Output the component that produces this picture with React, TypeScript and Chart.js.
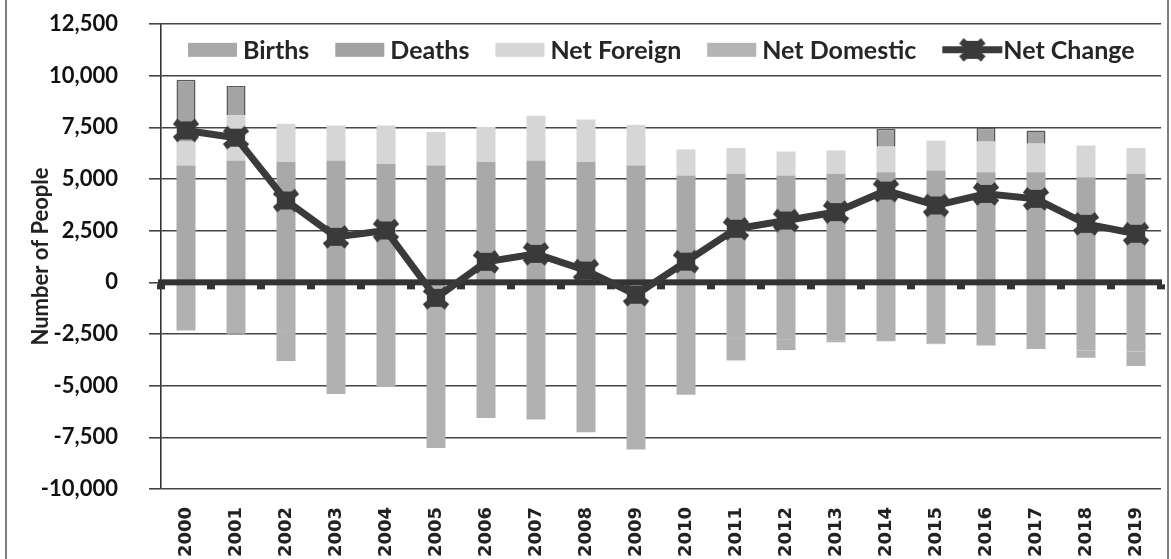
import { useEffect, useRef } from "react";
import { Chart, registerables } from "chart.js";
Chart.register(...registerables);

const years = ["2000","2001","2002","2003","2004","2005","2006","2007","2008","2009","2010","2011","2012","2013","2014","2015","2016","2017","2018","2019"];
const births = [5650,5900,5820,5900,5740,5650,5820,5900,5820,5650,5170,5250,5170,5250,5330,5410,5330,5330,5090,5250];
const deaths = [-2330,-2490,-2400,-2450,-2450,-2500,-2500,-2550,-2550,-2600,-2650,-2700,-2750,-2800,-2850,-2950,-3060,-3220,-3300,-3350];
const netForeign = [1150,2200,1850,1690,1850,1630,1700,2160,2060,1970,1260,1250,1160,1130,1230,1450,1470,1370,1530,1250];
const netDomestic = [3000,1400,-1410,-2950,-2620,-5520,-4060,-4090,-4700,-5490,-2790,-1080,-530,-100,870,-40,680,650,-350,-700];
const netChange = [7350,7000,3960,2200,2510,-750,990,1380,570,-600,1000,2590,2990,3400,4440,3720,4280,4040,2830,2350];
const yMin = -10000;
const yMax = 12500;
const yStep = 2500;

const LINE = "#3a3a3a";

function makeMarker(): HTMLCanvasElement {
  const c = document.createElement("canvas");
  c.width = 30; c.height = 26;
  const g = c.getContext("2d")!;
  g.strokeStyle = LINE; g.fillStyle = LINE;
  g.lineWidth = 7;
  g.beginPath();
  g.moveTo(4, 4); g.lineTo(26, 22);
  g.moveTo(26, 4); g.lineTo(4, 22);
  g.stroke();
  g.fillRect(6, 4, 18, 18);
  return c;
}

const framePlugin = {
  id: "frame",
  beforeDraw(chart: any) {
    const { ctx, width, height } = chart;
    ctx.save();
    ctx.fillStyle = "#fff";
    ctx.fillRect(0, 0, width, height);
    ctx.strokeStyle = "#555";
    ctx.lineWidth = 1.5;
    ctx.beginPath();
    ctx.moveTo(6, 0); ctx.lineTo(6, height);
    ctx.moveTo(width - 3, 0); ctx.lineTo(width - 3, height);
    ctx.stroke();
    ctx.restore();
  },
};

const zeroPlugin = {
  id: "zeroLine",
  beforeDatasetDraw(chart: any, args: any) {
    if (args.meta.type !== "line") return;
    const { ctx, chartArea } = chart;
    const x = chart.scales.x, y = chart.scales.y;
    const y0 = y.getPixelForValue(0);
    const step = x.getPixelForValue(1) - x.getPixelForValue(0);
    ctx.save();
    ctx.fillStyle = "#333";
    ctx.fillRect(chartArea.left - 3, y0 - 3, chartArea.right - chartArea.left + 4, 6);
    for (let i = 0; i <= years.length; i++) {
      const px = x.getPixelForValue(0) - step / 2 + i * step;
      ctx.fillRect(px - 4, y0 + 2, 8, 5);
    }
    ctx.restore();
  },
};

const legendPlugin = {
  id: "insideLegend",
  afterDraw(chart: any) {
    const { ctx } = chart;
    const y = chart.scales.y;
    const cy = (y.getPixelForValue(12500) + y.getPixelForValue(10000)) / 2;
    ctx.save();
    ctx.font = "bold 25px Lato";
    ctx.textBaseline = "middle";
    ctx.textAlign = "left";
    let x = 188;
    chart.data.datasets.forEach((ds: any) => {
      if (ds.type === "line") {
        ctx.strokeStyle = LINE;
        ctx.lineWidth = 7;
        ctx.beginPath();
        ctx.moveTo(x, cy); ctx.lineTo(x + 60, cy);
        ctx.stroke();
        const m = ds.pointStyle as HTMLCanvasElement;
        ctx.drawImage(m, x + 30 - m.width / 2, cy - m.height / 2);
        x += 61;
      } else {
        ctx.fillStyle = ds.legendColor;
        ctx.fillRect(x, cy - 7, 49, 14);
        x += 55;
      }
      ctx.fillStyle = "#262626";
      ctx.fillText(ds.label, x, cy + 1);
      x += ctx.measureText(ds.label).width + 26;
    });
    ctx.restore();
  },
};

export default function App() {
  const ref = useRef<HTMLCanvasElement>(null);
  useEffect(() => {
    document.body.style.margin = "0";
    const marker = makeMarker();
    const chart = new Chart(ref.current!, {
      type: "bar",
      data: {
        labels: years,
        datasets: [
          { type: "bar", label: "Births", data: births, backgroundColor: "#a9a9a9", legendColor: "#a9a9a9", order: 1 },
          { type: "bar", label: "Deaths", data: deaths, backgroundColor: "#b1b1b1", legendColor: "#a2a2a2", order: 1 },
          { type: "bar", label: "Net Foreign", data: netForeign, backgroundColor: "#d6d6d6", legendColor: "#d6d6d6", order: 1 },
          {
            type: "bar", label: "Net Domestic", data: netDomestic, legendColor: "#b4b4b4", order: 1,
            backgroundColor: (c: any) => (c.raw > 0 ? "#a4a4a4" : "#b1b1b1"),
            borderColor: "#5a5a5a",
            borderWidth: (c: any) => (c.raw > 0 ? 1.5 : 0),
          },
          {
            type: "line", label: "Net Change", data: netChange, borderColor: LINE, backgroundColor: LINE,
            borderWidth: 7, pointStyle: marker as any, pointRadius: 13, tension: 0, order: 0,
          },
        ] as any,
      },
      options: {
        animation: false,
        responsive: false,
        devicePixelRatio: 1,
        layout: { autoPadding: false, padding: { left: 28, top: 24, right: 10, bottom: 0 } },
        datasets: { bar: { categoryPercentage: 1, barPercentage: 0.38 } },
        plugins: { legend: { display: false }, tooltip: { enabled: false }, title: { display: false } },
        scales: {
          x: {
            stacked: true,
            grid: { display: false },
            border: { display: false },
            ticks: {
              minRotation: 90, maxRotation: 90, padding: 10, autoSkip: false,
              color: "#222", font: { family: "DejaVu Sans", weight: "bold", size: 18 },
            },
            afterFit: (s: any) => { s.height = 70; },
          },
          y: {
            stacked: true,
            min: yMin, max: yMax,
            ticks: {
              stepSize: yStep, padding: 31, color: "#111",
              font: { family: "Lato", weight: "bold", size: 22 },
              callback: (v: any) => Number(v).toLocaleString("en-US"),
            },
            grid: { color: "#444", lineWidth: 1.6, tickLength: 12, drawTicks: true },
            border: { display: true, color: "#333", width: 1.6 },
            title: {
              display: true, text: "Number of People", color: "#222", padding: 0,
              font: { family: "Lato", weight: "bold", size: 22 },
            },
            afterFit: (s: any) => { s.width = 133; s.paddingTop = 0; s.paddingBottom = 0; },
          },
        },
      },
      plugins: [framePlugin, zeroPlugin, legendPlugin],
    });
    return () => chart.destroy();
  }, []);
  return <canvas ref={ref} width={1171} height={559} style={{ display: "block" }} />;
}
